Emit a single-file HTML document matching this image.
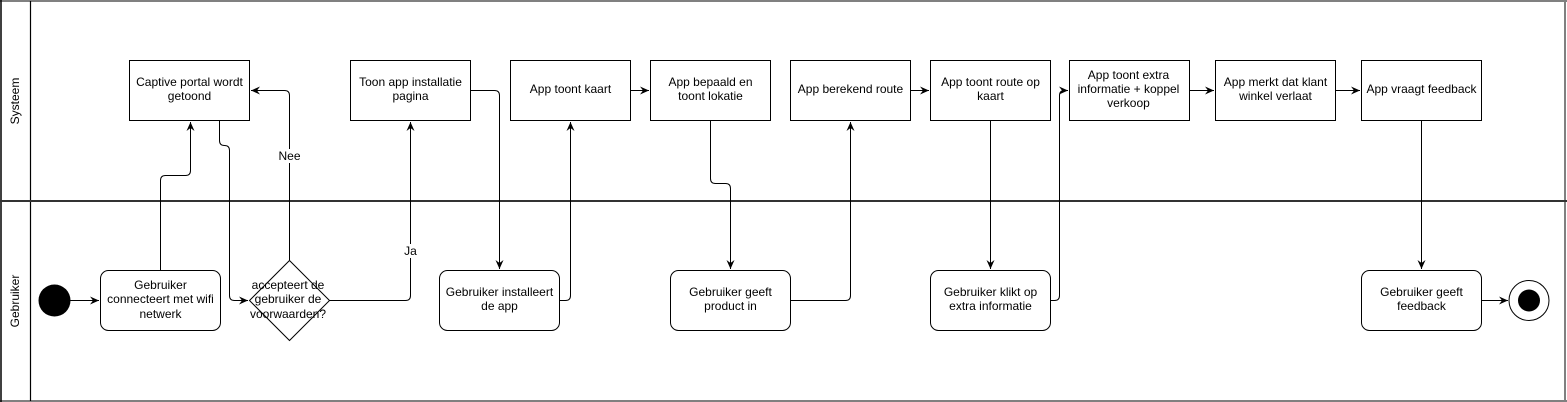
<!DOCTYPE html>
<html><head><meta charset="utf-8"><style>
html,body{margin:0;padding:0;background:#fff;}
svg{display:block;}
text{font-family:"Liberation Sans",Arial,sans-serif;font-size:12px;fill:#000;}
</style></head><body>
<svg width="1567" height="402" viewBox="0 0 1567 402" xmlns="http://www.w3.org/2000/svg">
<defs>
<marker id="a" markerWidth="10" markerHeight="10" refX="9" refY="5" orient="auto" markerUnits="userSpaceOnUse">
<path d="M0,1 L9,5 L0,9 L3,5 Z" fill="#000"/>
</marker>
</defs>
<rect width="1567" height="402" fill="#fff"/>
<!-- outer frame -->
<line x1="0" y1="1" x2="1567" y2="1" stroke="#808080" stroke-width="2"/>
<line x1="0" y1="401" x2="1567" y2="401" stroke="#808080" stroke-width="2"/>
<line x1="1565" y1="0" x2="1565" y2="402" stroke="#808080" stroke-width="2"/>
<line x1="1" y1="0" x2="1" y2="402" stroke="#000" stroke-width="1.5"/>
<line x1="30.5" y1="1" x2="30.5" y2="401" stroke="#000" stroke-width="1.2"/>
<line x1="0" y1="201" x2="1567" y2="201" stroke="#333" stroke-width="2"/>
<text transform="translate(19,101) rotate(-90)" text-anchor="middle">Systeem</text>
<text transform="translate(19,301) rotate(-90)" text-anchor="middle">Gebruiker</text>

<g fill="none" stroke="#000" stroke-width="1">
<!-- top boxes -->
<rect x="129.5" y="60.5" width="120" height="60"/>
<rect x="350.5" y="60.5" width="120" height="60"/>
<rect x="510.5" y="60.5" width="120" height="60"/>
<rect x="650.5" y="60.5" width="120" height="60"/>
<rect x="790.5" y="60.5" width="120" height="60"/>
<rect x="930.5" y="60.5" width="120" height="60"/>
<rect x="1069.5" y="60.5" width="120" height="60"/>
<rect x="1215.5" y="60.5" width="120" height="60"/>
<rect x="1361.5" y="60.5" width="120" height="60"/>
<!-- bottom rounded -->
<rect x="100.5" y="270.5" width="120" height="60" rx="8"/>
<rect x="439.5" y="270.5" width="120" height="60" rx="8"/>
<rect x="670.5" y="270.5" width="120" height="60" rx="8"/>
<rect x="930.5" y="270.5" width="120" height="60" rx="8"/>
<rect x="1361.5" y="270.5" width="120" height="60" rx="8"/>
<path d="M289.5,260.5 L329.5,300.5 L289.5,340.5 L249.5,300.5 Z"/>
<circle cx="1529" cy="300.5" r="20"/>
</g>
<circle cx="54.5" cy="300.5" r="16" fill="#000"/>
<circle cx="1529" cy="300.5" r="11" fill="#000"/>

<g fill="none" stroke="#000" stroke-width="1" marker-end="url(#a)">
<path d="M70.5,300.5 H99"/>
<path d="M160.5,270 V180.5 Q160.5,175.5 165.5,175.5 H185.5 Q190.5,175.5 190.5,170.5 V122"/>
<path d="M219.5,121 V140.5 Q219.5,145.5 224.5,145.5 Q229.5,145.5 229.5,150.5 V295.5 Q229.5,300.5 234.5,300.5 H248"/>
<path d="M289.5,260 V95.5 Q289.5,90.5 284.5,90.5 H251"/>
<path d="M329.5,300.5 H405.5 Q410.5,300.5 410.5,295.5 V122"/>
<path d="M470.5,90.5 H494.5 Q499.5,90.5 499.5,95.5 V269"/>
<path d="M559.5,300.5 H565.5 Q570.5,300.5 570.5,295.5 V122"/>
<path d="M630.5,90.5 H649"/>
<path d="M710.5,121 V178.5 Q710.5,183.5 715.5,183.5 H725.5 Q730.5,183.5 730.5,188.5 V269"/>
<path d="M790.5,300.5 H845.5 Q850.5,300.5 850.5,295.5 V122"/>
<path d="M910.5,90.5 H929"/>
<path d="M990.5,121 V269"/>
<path d="M1050.5,300.5 H1054.5 Q1059.5,300.5 1059.5,295.5 V95.5 Q1059.5,90.5 1064.5,90.5 H1068"/>
<path d="M1189.5,90.5 H1214"/>
<path d="M1335.5,90.5 H1360"/>
<path d="M1421.5,121 V269"/>
<path d="M1481.5,300.5 H1508"/>
</g>

<rect x="276" y="149" width="27" height="14" fill="#fff"/>
<text x="289.5" y="160" text-anchor="middle">Nee</text>
<rect x="401" y="244" width="19" height="14" fill="#fff"/>
<text x="410.5" y="255" text-anchor="middle">Ja</text>

<g text-anchor="middle">
<text x="189.5" y="86">Captive portal wordt</text><text x="189.5" y="100">getoond</text>
<text x="410.5" y="86">Toon app installatie</text><text x="410.5" y="100">pagina</text>
<text x="570.5" y="93">App toont kaart</text>
<text x="710.5" y="86">App bepaald en</text><text x="710.5" y="100">toont lokatie</text>
<text x="850.5" y="93">App berekend route</text>
<text x="990.5" y="86">App toont route op</text><text x="990.5" y="100">kaart</text>
<text x="1128.5" y="79">App toont extra</text><text x="1128.5" y="93">informatie + koppel</text><text x="1128.5" y="107">verkoop</text>
<text x="1275.5" y="86">App merkt dat klant</text><text x="1275.5" y="100">winkel verlaat</text>
<text x="1421.5" y="93">App vraagt feedback</text>
<text x="160.5" y="289">Gebruiker</text><text x="160.5" y="303">connecteert met wifi</text><text x="160.5" y="318">netwerk</text>
<text x="288" y="289">accepteert de</text><text x="288" y="303">gebruiker de</text><text x="288" y="318">voorwaarden?</text>
<text x="499.5" y="296">Gebruiker installeert</text><text x="499.5" y="310">de app</text>
<text x="730.5" y="296">Gebruiker geeft</text><text x="730.5" y="310">product in</text>
<text x="990.5" y="296">Gebruiker klikt op</text><text x="990.5" y="310">extra informatie</text>
<text x="1421.5" y="296">Gebruiker geeft</text><text x="1421.5" y="310">feedback</text>
</g>
</svg>
</body></html>
